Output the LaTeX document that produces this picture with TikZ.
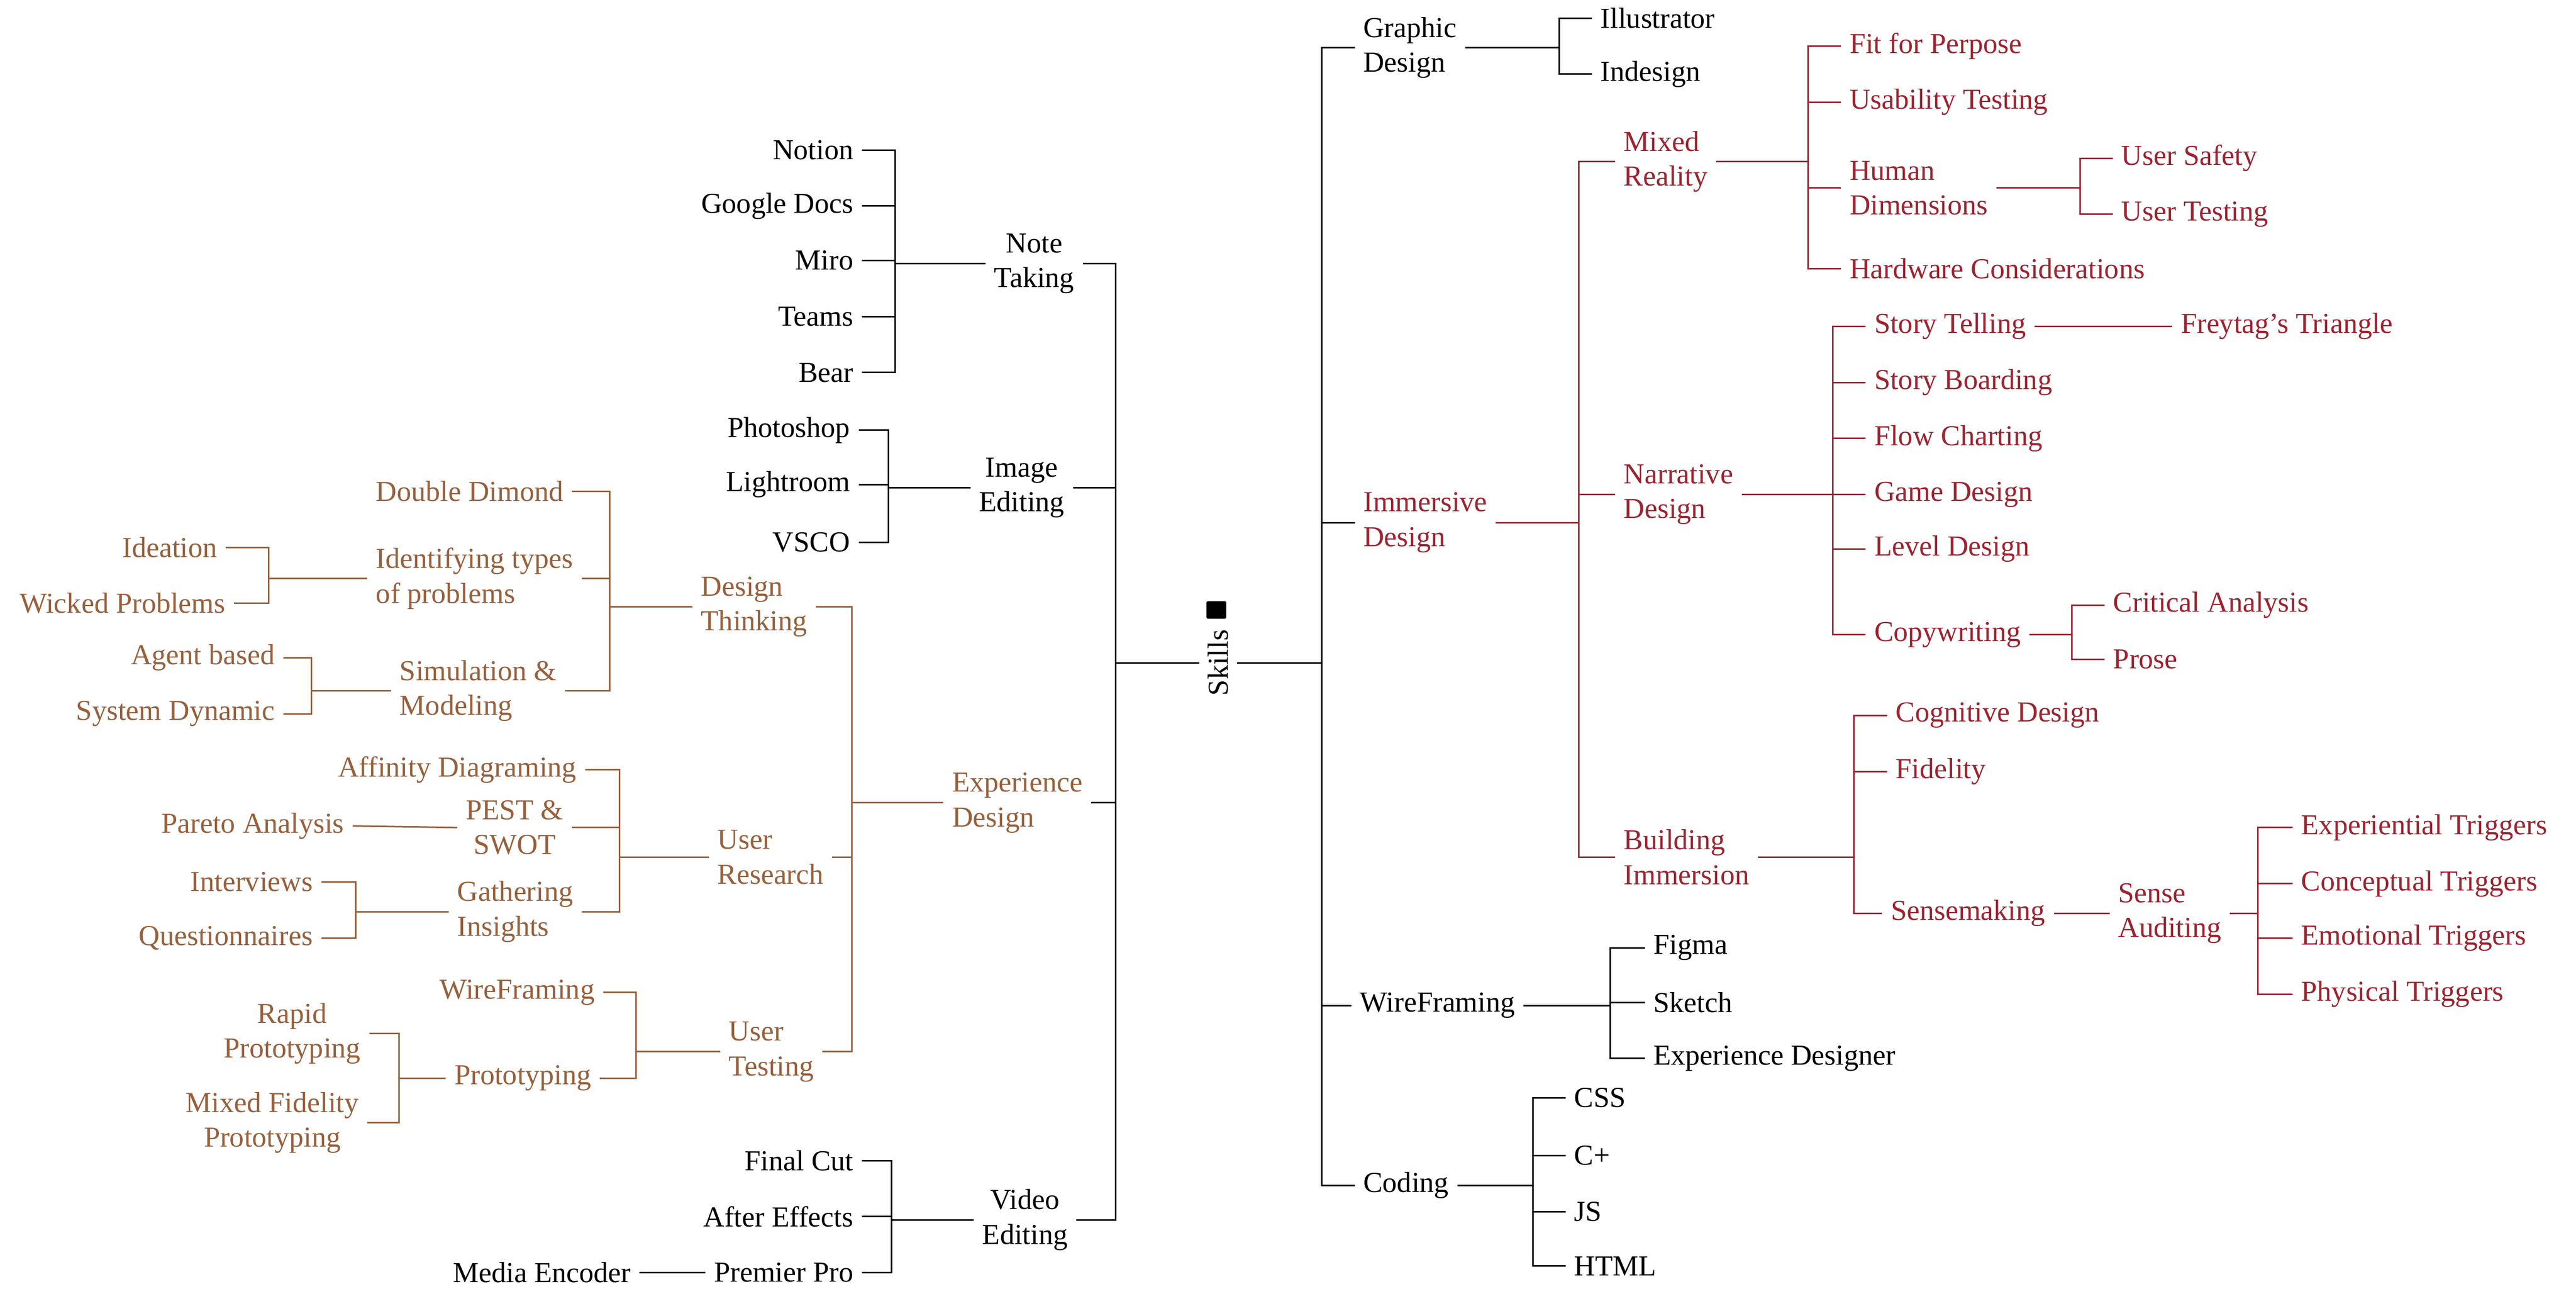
\documentclass[tikz,border=0pt]{standalone}
\usepackage{fontspec}
\setmainfont{Liberation Serif}
\definecolor{brn}{HTML}{97603C}
\definecolor{rdd}{HTML}{9B2430}
\tikzset{
 rt/.style = {anchor=west, align=left, inner xsep=1.5mm, inner ysep=0pt},
 lt/.style = {anchor=east, align=right, inner xsep=1.5mm, inner ysep=0pt},
 EdgeStyle/.style = {line width=0.8pt}
}
% parent on the left, children to the right
\newcommand\rbranch[4][black]{%
 \draw[EdgeStyle, #1] (#2.east) -- (#3,0 |- #2.east);
 \foreach \c in {#4} {\draw[EdgeStyle, #1] (#3,0 |- #2.east) |- (\c.west);}}
% parent on the right, children to the left
\newcommand\lbranch[4][black]{%
 \draw[EdgeStyle, #1] (#2.west) -- (#3,0 |- #2.west);
 \foreach \c in {#4} {\draw[EdgeStyle, #1] (#3,0 |- #2.west) |- (\c.east);}}
\begin{document}
\begin{tikzpicture}[x=0.3mm, y=-0.3mm, font=\fontsize{15}{18}\selectfont]
\useasboundingbox (0,0) rectangle (1563,795);

\node[rotate=90, inner sep=1.5mm] (skills) at (739,402) {Skills};
\node[fill, rounded corners=0.8pt, minimum width=3.6mm, minimum height=3.2mm, inner sep=0pt] (bag) at (738,370) {};

% right side
\node[rt] (gd) at (822,29) {Graphic\\Design};
\node[rt] (ill) at (966,11) {Illustrator};
\node[rt] (ind) at (966,45) {Indesign};
\node[rt, rdd] (imm) at (822,317) {Immersive\\Design};
\node[rt, rdd] (mr) at (980,98) {Mixed\\Reality};
\node[rt, rdd] (ffp) at (1117,28) {Fit for Perpose};
\node[rt, rdd] (ust) at (1117,62) {Usability Testing};
\node[rt, rdd] (hd) at (1117,114) {Human\\Dimensions};
\node[rt, rdd] (us) at (1282,96) {User Safety};
\node[rt, rdd] (utg) at (1282,130) {User Testing};
\node[rt, rdd] (hw) at (1117,163) {Hardware Considerations};
\node[rt, rdd] (nd) at (980,300) {Narrative\\Design};
\node[rt, rdd] (stt) at (1132,198) {Story Telling};
\node[rt, rdd] (fr) at (1318,198) {Freytag's Triangle};
\node[rt, rdd] (sb) at (1132,232) {Story Boarding};
\node[rt, rdd] (fc) at (1132,266) {Flow Charting};
\node[rt, rdd] (gmd) at (1132,300) {Game Design};
\node[rt, rdd] (lvd) at (1132,333) {Level Design};
\node[rt, rdd] (cw) at (1132,385) {Copywriting};
\node[rt, rdd] (ca) at (1277,367) {Critical Analysis};
\node[rt, rdd] (pr) at (1277,400) {Prose};
\node[rt, rdd] (bi) at (980,520) {Building\\Immersion};
\node[rt, rdd] (cog) at (1145,434) {Cognitive Design};
\node[rt, rdd] (fid) at (1145,468) {Fidelity};
\node[rt, rdd] (sm) at (1142,554) {Sensemaking};
\node[rt, rdd] (sa) at (1280,554) {Sense\\Auditing};
\node[rt, rdd] (et) at (1391,502) {Experiential Triggers};
\node[rt, rdd] (ct) at (1391,536) {Conceptual Triggers};
\node[rt, rdd] (emt) at (1391,569) {Emotional Triggers};
\node[rt, rdd] (pt) at (1391,603) {Physical Triggers};
\node[rt] (wf) at (820,610) {WireFraming};
\node[rt] (fig) at (998,575) {Figma};
\node[rt] (skt) at (998,608) {Sketch};
\node[rt] (exd) at (998,642) {Experience Designer};
\node[rt] (cod) at (822,719) {Coding};
\node[rt] (css) at (950,666) {CSS};
\node[rt] (cpl) at (950,701) {C+};
\node[rt] (js) at (950,735) {JS};
\node[rt] (html) at (950,768) {HTML};

% left side
\node[lt, align=center] (nt) at (657,160) {Note\\Taking};
\node[lt] (notion) at (523,91) {Notion};
\node[lt] (gdocs) at (523,125) {Google Docs};
\node[lt] (miro) at (523,158) {Miro};
\node[lt] (teams) at (523,192) {Teams};
\node[lt] (bear) at (523,226) {Bear};
\node[lt, align=center] (ie) at (651,296) {Image\\Editing};
\node[lt] (ps) at (521,261) {Photoshop};
\node[lt] (lr) at (521,294) {Lightroom};
\node[lt] (vsco) at (521,329) {VSCO};
\node[lt, brn, align=left] (xd) at (662,487) {Experience\\Design};
\node[lt, brn, align=left] (dt) at (495,368) {Design\\Thinking};
\node[lt, brn] (dd) at (347,298) {Double Dimond};
\node[lt, brn, align=left] (itp) at (353,351) {Identifying types\\of problems};
\node[lt, brn] (idea) at (137,332) {Ideation};
\node[lt, brn] (wick) at (142,366) {Wicked Problems};
\node[lt, brn, align=left] (sim) at (343,419) {Simulation \&\\Modeling};
\node[lt, brn] (agent) at (172,399) {Agent based};
\node[lt, brn] (sysd) at (172,433) {System Dynamic};
\node[lt, brn, align=left] (ur) at (505,520) {User\\Research};
\node[lt, brn] (aff) at (355,467) {Affinity Diagraming};
\node[lt, brn, align=center] (pest) at (347,502) {PEST \&\\SWOT};
\node[lt, brn] (par) at (214,501) {Pareto Analysis};
\node[lt, brn, align=left] (gath) at (353,553) {Gathering\\Insights};
\node[lt, brn] (intv) at (195,535) {Interviews};
\node[lt, brn] (quest) at (195,569) {Questionnaires};
\node[lt, brn, align=left] (utst) at (499,638) {User\\Testing};
\node[lt, brn] (wfl) at (366,602) {WireFraming};
\node[lt, brn] (proto) at (364,654) {Prototyping};
\node[lt, brn, align=center] (rapid) at (224,627) {Rapid\\Prototyping};
\node[lt, brn, align=center] (mfp) at (223,681) {Mixed Fidelity\\Prototyping};
\node[lt, align=center] (ve) at (653,740) {Video\\Editing};
\node[lt] (fcut) at (523,704) {Final Cut};
\node[lt] (ae) at (523,738) {After Effects};
\node[lt] (prem) at (523,772) {Premier Pro};
\node[lt] (menc) at (388,772) {Media Encoder};

% connectors
\draw[EdgeStyle] (skills.south) -- (802,0 |- skills.south);
\foreach \c in {gd, imm, wf, cod} {\draw[EdgeStyle] (802,0 |- skills.south) |- (\c.west);}
\draw[EdgeStyle] (skills.north) -- (677,0 |- skills.north);
\foreach \c in {nt, ie, xd, ve} {\draw[EdgeStyle] (677,0 |- skills.north) |- (\c.east);}

\rbranch{gd}{946}{ill, ind}
\rbranch[rdd]{imm}{958}{mr, nd, bi}
\rbranch[rdd]{mr}{1097}{ffp, ust, hd, hw}
\rbranch[rdd]{hd}{1262}{us, utg}
\rbranch[rdd]{nd}{1112}{stt, sb, fc, gmd, lvd, cw}
\draw[EdgeStyle, rdd] (stt.east) -- (fr.west);
\rbranch[rdd]{cw}{1257}{ca, pr}
\rbranch[rdd]{bi}{1125}{cog, fid, sm}
\draw[EdgeStyle, rdd] (sm.east) -- (sa.west);
\rbranch[rdd]{sa}{1370}{et, ct, emt, pt}
\rbranch{wf}{977}{fig, skt, exd}
\rbranch{cod}{930}{css, cpl, js, html}

\lbranch{nt}{543}{notion, gdocs, miro, teams, bear}
\lbranch{ie}{539}{ps, lr, vsco}
\lbranch[brn]{xd}{517}{dt, ur, utst}
\lbranch[brn]{dt}{370}{dd, itp, sim}
\lbranch[brn]{itp}{163}{idea, wick}
\lbranch[brn]{sim}{189}{agent, sysd}
\lbranch[brn]{ur}{376}{aff, pest, gath}
\draw[EdgeStyle, brn] (pest.west) -- (par.east);
\lbranch[brn]{gath}{216}{intv, quest}
\lbranch[brn]{utst}{386}{wfl, proto}
\lbranch[brn]{proto}{242}{rapid, mfp}
\lbranch{ve}{541}{fcut, ae, prem}
\draw[EdgeStyle] (prem.west) -- (menc.east);
\end{tikzpicture}
\end{document}
